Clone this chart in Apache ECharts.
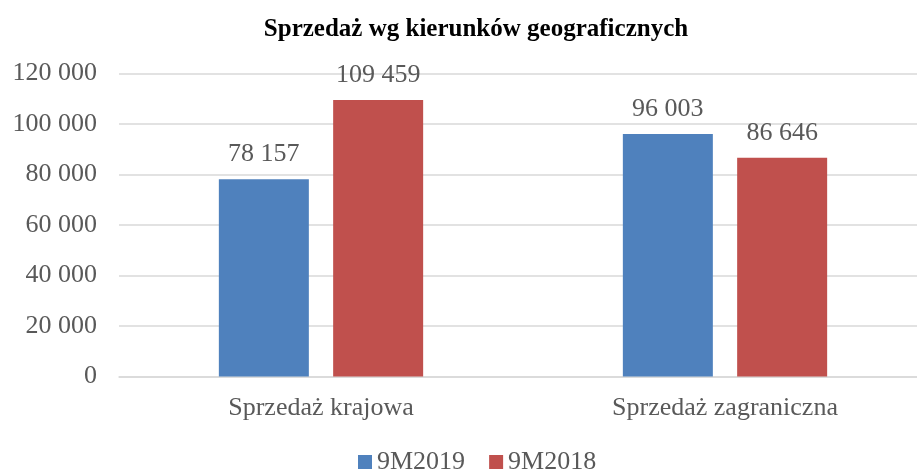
<!DOCTYPE html>
<html><head><meta charset="utf-8">
<script src="https://cdn.jsdelivr.net/npm/echarts@6/dist/echarts.min.js"></script>
<style>html,body{margin:0;padding:0;background:#fff;overflow:hidden}#c{width:937px;height:470px}</style>
</head><body><div id="c"></div>
<script>
const categories = ["Sprzedaż krajowa", "Sprzedaż zagraniczna"];
const seriesNames = ["9M2019", "9M2018"];
const values2019 = [78157, 96003];
const values2018 = [109459, 86646];
const yTicks = [0, 20000, 40000, 60000, 80000, 100000, 120000];

const fmt = v => String(v).replace(/\B(?=(\d{3})+(?!\d))/g, " ");
const FONT = "'Liberation Serif', 'Times New Roman', serif";
const TXT = "#595959";
const FS = 26;
const chart = echarts.init(document.getElementById('c'), null, {renderer: 'canvas'});
const mk = (name, data, color) => ({
  name, type: 'bar', data, barWidth: 90, barGap: '27%',
  itemStyle: {color},
  label: {show: true, position: 'top', distance: 12, formatter: p => fmt(p.value),
    fontFamily: FONT, fontSize: FS, color: TXT},
  animation: false
});
chart.setOption({
  animation: false,
  title: {text: "Sprzedaż wg kierunków geograficznych", left: 471, textAlign: 'center', top: 12,
    textStyle: {fontFamily: FONT, fontSize: 25, fontWeight: 'bold', color: '#000'}},
  legend: {data: seriesNames, top: 444, left: 353, itemWidth: 14, itemHeight: 14, itemGap: 24,
    icon: 'rect', textStyle: {fontFamily: FONT, fontSize: FS, color: TXT}},
  grid: {left: 119, top: 73.5, right: 10, height: 303},
  xAxis: {type: 'category', data: categories,
    axisLine: {lineStyle: {color: '#d9d9d9', width: 1.5}}, axisTick: {show: false},
    axisLabel: {fontFamily: FONT, fontSize: FS, color: TXT, margin: 19}},
  yAxis: {type: 'value', min: yTicks[0], max: yTicks[yTicks.length-1], interval: yTicks[1]-yTicks[0],
    axisLine: {show: false}, axisTick: {show: false},
    splitLine: {lineStyle: {color: '#d9d9d9', width: 1.5}},
    axisLabel: {fontFamily: FONT, fontSize: FS, color: TXT, margin: 22, formatter: v => fmt(v)}},
  series: [mk(seriesNames[0], values2019, '#4F81BD'), mk(seriesNames[1], values2018, '#C0504D')]
});
</script></body></html>
